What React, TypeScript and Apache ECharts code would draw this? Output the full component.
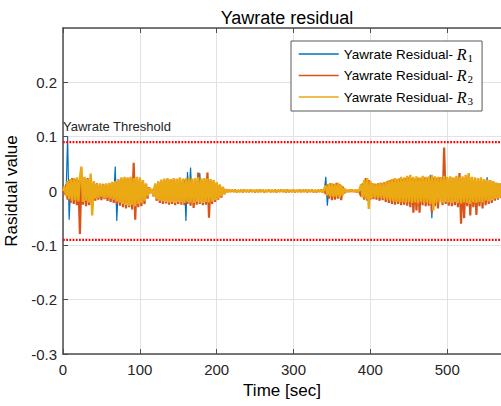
import React, { useEffect, useRef } from 'react';
import * as echarts from 'echarts';

// Sampling step of the recorded signals (seconds)
const SAMPLE_STEP_SEC = 2;
const X_MAX = 570;

// Residual values in units of 1e-3, one sample every 2 s starting at t = 0
const r1Milli = [
  0, 4, -6, 100, -53, 10, -8, 9, -10, 8,
  -9, 10, -8, 9, -10, 8, -9, 10, -8, 9,
  -8, 7, -6, 8, -7, 6, -7, 8, -6, 7,
  -8, 9, -10, -12, 45, -55, 12, -10, 11, -12,
  10, -11, 12, -10, 11, -12, 10, -11, 12, -10,
  11, -10, 9, -8, 7, -5, 3, -2, 2, -6,
  8, -10, 9, -11, 10, -9, 11, -10, 9, -11,
  10, -9, 11, -10, 9, -11, 10, -9, -12, 20,
  -55, 35, -10, 43, -20, 12, -11, 10, -10, 33,
  -12, 11, -10, 12, -11, 10, -12, 11, -9, 10,
  -8, 7, -6, 5, -4, 3, -2, 1, -1, 1,
  -1, 1, -1, 1, -1, 1, -1, 1, -1, 1,
  -1, 1, -1, 1, -1, 1, -1, 1, -1, 1,
  -1, 1, -1, 1, -1, 1, -1, 1, -1, 1,
  -1, 1, -1, 1, -1, 1, -1, 1, -1, 1,
  -1, 1, -1, 1, -1, 1, -1, 1, -1, 1,
  -1, 1, -1, 1, -1, 1, -1, 1, -1, 1,
  -2, 26, -27, 8, -7, 9, -8, 7, -8, 9,
  -7, 8, -6, 3, -1, 1, -1, 1, -1, 1,
  -1, 1, -1, 2, -6, 8, -9, 10, -8, 9,
  -10, 9, -8, 9, -10, 8, -9, 10, -9, 10,
  -11, 10, -12, 11, -10, 12, -11, 10, -12, 11,
  -10, 12, -11, 10, -12, 11, -10, 12, -11, 10,
  -12, 11, -10, 12, -11, 10, -12, 11, -10, 30,
  -50, 12, -11, 10, -12, 11, -10, 12, -11, 10,
  -12, 11, -10, 12, -11, 10, -12, 11, -10, 12,
  -11, 10, -12, 11, -10, 12, -11, 10, -12, 11,
  -10, 12, -11, 10, -12, 11, 25, -10, 11, -10,
  9, -8, 9, -8, 8, -7,
];

const r2Milli = [
  0, -6, 12, -16, 20, -22, 24, -24, 22, -26,
  20, -79, 28, -25, 22, -28, 24, -26, 20, -30,
  16, -18, 14, -16, 12, -17, 13, -15, 12, -18,
  14, -20, 16, -22, 18, -24, 20, -27, 23, -30,
  22, -32, 24, -30, 23, -34, 52, -53, 24, -30,
  22, -28, 18, -24, 12, -14, 7, -4, 3, -10,
  12, -18, 16, -22, 19, -24, 20, -23, 21, -25,
  20, -24, 22, -26, 21, -24, 22, -25, 20, -26,
  22, -24, 21, -27, 22, -31, 20, -25, 34, -24,
  22, -26, 20, -25, 34, -49, 20, -24, 18, -20,
  15, -16, 11, -12, 7, -6, 3, -1, 2, -1,
  1, -1, 2, -2, 1, -1, 1, -2, 2, -1,
  1, -1, 2, -1, 1, -2, 1, -1, 2, -1,
  1, -2, 1, -1, 2, -1, 1, -1, 2, -2,
  1, -1, 2, -1, 1, -2, 2, -1, 1, -1,
  1, -2, 1, -1, 2, -1, 1, -1, 2, -2,
  1, -1, 2, -1, 1, -2, 1, -1, 2, -2,
  3, -6, 12, -14, 14, -17, 13, -16, 15, -14,
  12, -17, 8, -4, 2, -1, 1, -1, 2, -1,
  1, -2, 1, -3, -10, 14, -16, 24, -18, 20,
  -16, 14, -15, 13, -16, 14, -18, 15, -17, 16,
  -20, 18, -22, 20, -24, 22, -25, 21, -24, 23,
  -26, 22, -25, 24, -27, 25, -30, 24, -40, 22,
  -36, 24, -40, 23, -26, 25, -28, 24, -27, 22,
  -40, 25, -28, 24, -32, 23, 24, -26, 80, -24,
  24, -27, 25, -28, 24, -26, 25, -30, 33, -60,
  24, -50, 25, -28, 30, -45, 24, -30, 22, -44,
  23, -28, 22, -32, 20, -26, 21, -24, 19, -22,
  17, -18, 15, -16, 14, -13,
];

const r3Milli = [
  0, 8, -10, 18, -15, 22, -18, 24, -17, 25,
  -19, 24, 45, -20, 26, -18, 22, -21, 32, -45,
  18, -14, 13, -12, 14, -11, 12, -13, 14, -12,
  15, -14, 17, -16, 18, -19, 22, -21, 25, -24,
  26, -26, 25, -27, 26, -25, 24, -28, 26, -24,
  25, -22, 20, -18, 14, -10, 6, -3, 4, -9,
  14, -15, 18, -18, 21, -19, 23, -20, 24, -21,
  22, -20, 24, -22, 23, -20, 25, -21, 23, -22,
  24, -20, 25, -21, 23, -22, 24, -20, 25, -21,
  23, -22, 24, -20, 23, -21, 22, -19, 20, -17,
  16, -14, 12, -10, 8, -5, 3, -2, 1, -1,
  2, -1, 1, -2, 1, -1, 2, -1, 1, -1,
  1, -2, 2, -1, 1, -1, 2, -2, 1, -1,
  2, -1, 1, -1, 2, -2, 1, -1, 1, -2,
  2, -1, 1, -1, 2, -1, 1, -2, 1, -1,
  2, -1, 1, -1, 1, -2, 2, -1, 1, -1,
  2, -1, 1, -2, 1, -1, 2, -1, 2, -3,
  4, 10, -8, 13, -10, 14, -11, 12, -10, 15,
  -12, 11, -8, 5, -2, 1, -1, 2, -1, 1,
  -1, 2, -2, 3, 12, -12, 20, -14, 24, -33,
  18, -13, 14, -12, 13, -13, 15, -12, 14, -14,
  17, -16, 20, -18, 22, -19, 24, -20, 23, -21,
  26, -20, 25, -22, 28, -20, 30, -22, 26, -21,
  27, -23, 25, -20, 28, -22, 26, -21, 27, -24,
  30, -36, 27, -22, 26, -21, 25, -22, 28, -20,
  26, -21, 27, -22, 25, -20, 28, -22, 26, -23,
  27, -21, 30, -22, 33, -24, 26, -21, 25, -22,
  24, -20, 25, -21, 22, -18, 21, -19, 20, -17,
  18, -14, 15, -13, 14, -12,
];

const seriesNames = ['Yawrate Residual- R1', 'Yawrate Residual- R2', 'Yawrate Residual- R3'];
const seriesColors = ['#0072BD', '#D95319', '#EBA914'];
const seriesWidths = [1.2, 2.2, 2.4];
const thresholdValues = [0.09, -0.09];
const thresholdLabel = 'Yawrate Threshold';

const FONT = '"Liberation Sans", Arial, Helvetica, sans-serif';
const SERIF = '"Liberation Serif", "Times New Roman", serif';
const AXIS_COLOR = '#4d4d4d';
const TEXT_COLOR = '#262626';

export default function App() {
  const ref = useRef<HTMLDivElement>(null);

  useEffect(() => {
    if (!ref.current) return;
    const chart = echarts.init(ref.current, null, { renderer: 'svg' });

    const toPairs = (arr: number[]) => arr.map((v, i) => [i * SAMPLE_STEP_SEC, v / 1000]);
    const residuals = [r1Milli, r2Milli, r3Milli];

    const dataSeries = residuals.map((arr, k) => ({
      name: seriesNames[k],
      type: 'line',
      data: toPairs(arr),
      symbol: 'none',
      showSymbol: false,
      lineStyle: { color: seriesColors[k], width: seriesWidths[k], join: 'bevel' },
      itemStyle: { color: seriesColors[k] },
      silent: true,
      z: 3 + k,
    }));

    const thresholdSeries = thresholdValues.map((v, k) => ({
      name: 'threshold' + k,
      type: 'line',
      data: [
        [0, v],
        [X_MAX, v],
      ],
      symbol: 'none',
      showSymbol: false,
      silent: true,
      lineStyle: { color: '#ff0000', width: 2.4, type: [1.8, 1.4], cap: 'butt' },
      z: 10,
    }));

    const option: any = {
      animation: false,
      backgroundColor: '#ffffff',
      title: {
        text: 'Yawrate residual',
        left: 282,
        top: 4,
        textAlign: 'center',
        textStyle: { fontSize: 18, fontWeight: 'normal', color: '#000', fontFamily: FONT },
      },
      grid: { left: 63, right: 0, top: 28, bottom: 52, containLabel: false, outerBoundsMode: 'none' },
      legend: {
        data: seriesNames,
        orient: 'vertical',
        left: 291,
        top: 41,
        itemWidth: 40,
        itemHeight: 14,
        itemGap: 4.5,
        padding: [5, 9, 5, 7],
        backgroundColor: '#ffffff',
        borderColor: '#5a5a5a',
        borderWidth: 1,
        borderRadius: 0,
        selectedMode: false,
        itemStyle: { opacity: 0, borderWidth: 0 },
        lineStyle: { width: 1.5 },
        formatter: (name: string) => `{t|Yawrate Residual- }{r|R}{s|${name.slice(-1)}}`,
        textStyle: {
          color: '#000',
          fontFamily: FONT,
          fontSize: 13.5,
          rich: {
            t: { fontSize: 13.5, fontFamily: FONT, color: '#000' },
            r: { fontSize: 16, fontFamily: SERIF, fontStyle: 'italic', color: '#000' },
            s: { fontSize: 11, fontFamily: SERIF, color: '#000', padding: [7, 0, 0, 1] },
          },
        },
      },
      xAxis: [
        {
          type: 'value',
          position: 'bottom',
          min: 0,
          max: X_MAX,
          interval: 100,
          name: 'Time [sec]',
          nameLocation: 'middle',
          nameGap: 24,
          nameTextStyle: { fontSize: 17, color: '#000', fontFamily: FONT },
          axisLine: { show: true, onZero: false, lineStyle: { color: AXIS_COLOR, width: 1.5 } },
          axisTick: { show: true, inside: true, length: 5, lineStyle: { color: AXIS_COLOR } },
          axisLabel: { color: TEXT_COLOR, fontSize: 15, margin: 8, fontFamily: FONT, showMaxLabel: false },
          splitLine: { show: true, lineStyle: { color: '#e2e2e2', width: 1 } },
        },
        {
          type: 'value',
          position: 'top',
          min: 0,
          max: X_MAX,
          interval: 100,
          axisLine: { show: true, onZero: false, lineStyle: { color: AXIS_COLOR, width: 1.5 } },
          axisTick: { show: true, inside: true, length: 5, lineStyle: { color: AXIS_COLOR } },
          axisLabel: { show: false },
          splitLine: { show: false },
        },
      ],
      yAxis: {
        type: 'value',
        min: -0.3,
        max: 0.3,
        interval: 0.1,
        name: 'Rasidual value',
        nameLocation: 'middle',
        nameGap: 40,
        nameTextStyle: { fontSize: 17, color: '#000', fontFamily: FONT },
        axisLine: { show: true, onZero: false, lineStyle: { color: AXIS_COLOR, width: 1.5 } },
        axisTick: { show: true, inside: true, length: 5, lineStyle: { color: AXIS_COLOR } },
        axisLabel: {
          color: TEXT_COLOR,
          fontSize: 15,
          margin: 6,
          fontFamily: FONT,
          showMaxLabel: false,
          formatter: (v: number) => String(Math.round(v * 10) / 10),
        },
        splitLine: { show: true, lineStyle: { color: '#e2e2e2', width: 1 } },
      },
      graphic: [
        {
          type: 'text',
          left: 63,
          top: 120,
          silent: true,
          z: 20,
          style: { text: thresholdLabel, fontSize: 13, fontFamily: FONT, fill: TEXT_COLOR },
        },
      ],
      series: [...dataSeries, ...thresholdSeries],
    };

    chart.setOption(option);
    return () => chart.dispose();
  }, []);

  return (
    <div
      ref={ref}
      style={{ position: 'absolute', left: 0, top: 0, width: 501, height: 406, background: '#fff' }}
    />
  );
}
